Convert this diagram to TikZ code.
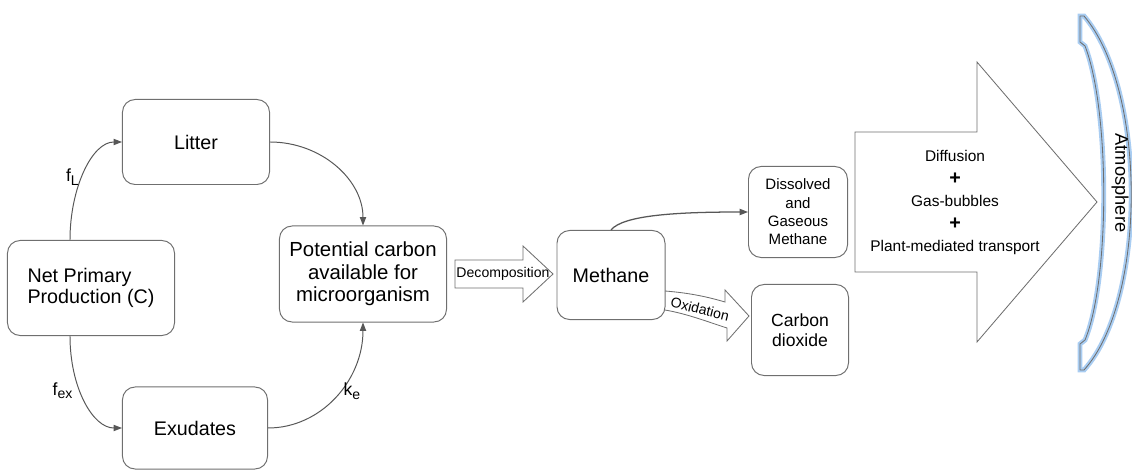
\documentclass[tikz,border=0pt]{standalone}
\usepackage{fontspec}
\setmainfont{Liberation Sans}
\usetikzlibrary{arrows.meta}
\definecolor{boxgray}{HTML}{6F6F6F}
\definecolor{arrgray}{HTML}{575757}
\definecolor{glowblue}{HTML}{A9CDF2}
\newcommand{\lowidx}[1]{\raisebox{-0.4ex}{\fontsize{10}{10}\selectfont #1}}

\begin{document}
\begin{tikzpicture}[x=0.025cm, y=-0.025cm,
		box/.style={draw=boxgray, line width=0.7pt, rounded corners=9pt, align=center, inner sep=2pt},
		flow/.style={draw=arrgray, line width=0.7pt, -{Triangle[length=6pt,width=4.5pt]}},
		blockarrow/.style={draw=boxgray, line width=0.6pt},
		lbl/.style={font=\fontsize{12.5}{12.5}\selectfont, inner sep=2pt}]

	\useasboundingbox (0,0) rectangle (1132,471);

	\node[box, align=left, minimum width=4.175cm, minimum height=2.375cm, font=\fontsize{14}{15.5}\selectfont] (npp) at (91,288) {Net Primary\\Production (C)};
	\node[box, minimum width=3.675cm, minimum height=2.125cm, font=\fontsize{14}{15}\selectfont] (litter) at (196,142) {Litter};
	\node[box, minimum width=3.625cm, minimum height=2.05cm, font=\fontsize{14}{15}\selectfont] (exud) at (195,428) {Exudates};
	\node[box, minimum width=4.175cm, minimum height=2.4cm, font=\fontsize{14.5}{16}\selectfont] (pot) at (363,274) {Potential carbon\\available for\\microorganism};
	\node[box, minimum width=2.7cm, minimum height=2.225cm, font=\fontsize{14}{15}\selectfont] (meth) at (611,275) {Methane};
	\node[box, minimum width=2.475cm, minimum height=2.275cm, font=\fontsize{10.7}{13}\selectfont] (diss) at (798,212) {Dissolved\\and\\Gaseous\\Methane};
	\node[box, minimum width=2.425cm, minimum height=2.275cm, font=\fontsize{12.5}{14}\selectfont] (co2) at (800,330) {Carbon\\dioxide};

	\draw[flow] ([xshift=-0.525cm]npp.north) .. controls +(0,-52) and +(-30,0) .. node[lbl, left, pos=0.45] {f\lowidx{L}} (litter.west);
	\draw[flow] ([xshift=-0.525cm]npp.south) .. controls +(0,52) and +(-29,0) .. node[lbl, left, pos=0.4, xshift=-3pt] {f\lowidx{ex}} (exud.west);
	\draw[flow] (litter.east) .. controls +(51,0) and +(0,-46) .. (pot.north);
	\draw[flow] (exud.east) .. controls +(53,0) and +(0,58) .. node[lbl, right, pos=0.55] {k\lowidx{e}} (pot.south);
	\draw[flow, line width=0.9pt] (meth.north) .. controls +(12,-15) and +(-70,0) .. (diss.west);

	\draw[blockarrow] (455,260) -- (523,260) -- (523,246) -- (553,274) -- (523,302) -- (523,288) -- (455,288) -- cycle;
	\node[font=\fontsize{10}{10}\selectfont] (decomp) at (503,274) {Decomposition};

	\draw[blockarrow] (665,291) .. controls (690,293) and (708,297) .. (725,302) -- (725,290) -- (749,316) -- (727,341) -- (727,328) .. controls (708,322) and (688,314) .. (665,310);
	\node[font=\fontsize{10}{10}\selectfont, rotate=-14] (oxid) at (700,309) {Oxidation};

	\draw[blockarrow] (855,132) -- (977,132) -- (977,62) -- (1097,202) -- (977,342) -- (977,272) -- (855,272) -- cycle;
	\node[align=center, font=\fontsize{11}{16}\selectfont] (paths) at (955,203) {Diffusion\\{\fontsize{14}{16}\selectfont\textbf{+}}\\Gas-bubbles\\{\fontsize{14}{16}\selectfont\textbf{+}}\\Plant-mediated transport};

	\draw[boxgray, line width=0.6pt, line join=round, preaction={draw=glowblue, line width=3.5pt}] (1080,16) -- (1080,42) -- (1085,46) .. controls (1110,110) and (1110,280) .. (1085,340) -- (1080,344) -- (1080,370) -- (1084,370) .. controls (1147,300) and (1147,90) .. (1084,16) -- cycle;
	\node[rotate=-90, font=\fontsize{13}{13}\selectfont] (atm) at (1120,183) {Atmosphere};
\end{tikzpicture}
\end{document}
